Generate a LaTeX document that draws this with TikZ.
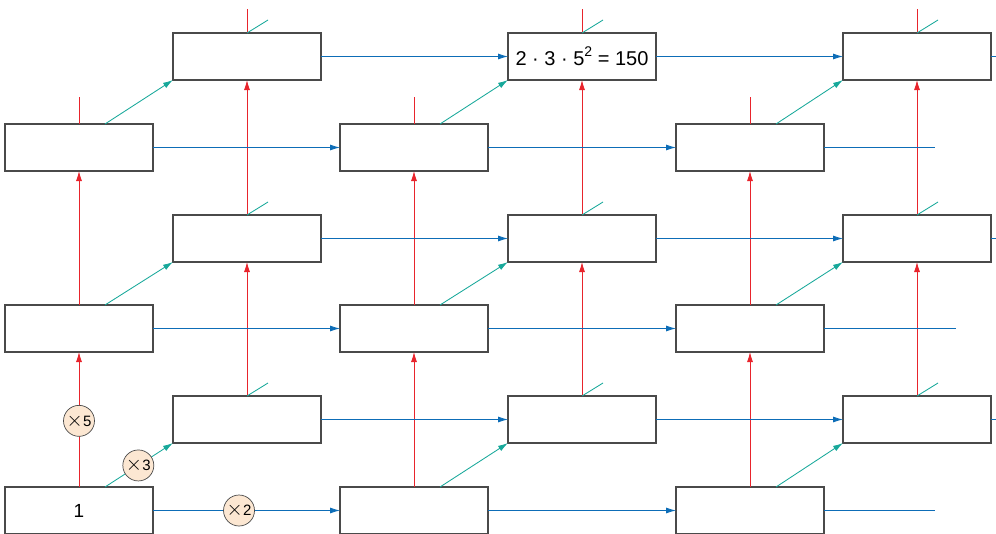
\documentclass[tikz,border=0pt]{standalone}
\usepackage{fontspec}
\setmainfont{Liberation Sans}
\usetikzlibrary{arrows.meta,calc}
\definecolor{cred}{HTML}{E8242C}
\definecolor{cteal}{HTML}{17A89A}
\definecolor{cblue}{HTML}{0D6DB7}
\definecolor{cpeach}{HTML}{FCE7D2}
\definecolor{cborder}{HTML}{4A4A4A}
\newcommand{\factortext}[1]{{\fontsize{21}{15}\selectfont$\times$}\kern0.5pt#1}
\begin{document}
\begin{tikzpicture}[x=1pt,y=-1pt,
  cell/.style={draw=cborder,line width=1.1pt,fill=white,minimum width=148pt,minimum height=47pt,
    anchor=north west,inner sep=0pt,outer sep=0pt,font=\fontsize{18}{18}\selectfont},
  redar/.style={draw=cred,line width=0.85pt},
  tealar/.style={draw=cteal,line width=0.85pt},
  bluear/.style={draw=cblue,line width=0.85pt},
  tip/.style={-{Latex[length=10pt,width=6pt]}},
  factor/.style={circle,draw=cborder,line width=0.7pt,fill=cpeach,minimum size=31pt,inner sep=0pt,
    font=\fontsize{15}{15}\selectfont}]
\useasboundingbox (0,0) rectangle (996,533);
% front layer
\foreach \c/\x in {1/5,2/340,3/676}{
  \foreach \r/\y in {1/487,2/305,3/124}{
    \node[cell] (f-\c-\r) at (\x,\y) {};
  }
}
% back layer
\foreach \c/\x in {1/173,2/508,3/843}{
  \foreach \r/\y in {1/396,2/215,3/33}{
    \node[cell] (b-\c-\r) at (\x,\y) {};
  }
}
\node[font=\fontsize{19}{19}\selectfont] at (f-1-1.center) {1};
\node[font=\fontsize{20}{20}\selectfont] at (b-2-3.center) {2 · 3 · 5\raisebox{0.45em}{\fontsize{14}{14}\selectfont 2} = 150};
% stub end coordinates
\foreach \c/\x in {1/79,2/414,3/750}{
  \coordinate (fs-\c) at (\x,97);
}
\foreach \c/\x in {1/247,2/582,3/917}{
  \coordinate (bs-\c) at (\x,9);
}
\coordinate (fe-1) at (935,510);
\coordinate (fe-2) at (956,328);
\coordinate (fe-3) at (935,147);
\foreach \r/\y in {1/419,2/238,3/56}{
  \coordinate (be-\r) at (996,\y);
}
% red connectors
\foreach \c in {1,2,3}{
  \draw[redar,tip] (b-\c-1.north) -- (b-\c-2.south);
  \draw[redar,tip] (b-\c-2.north) -- (b-\c-3.south);
  \draw[redar] (b-\c-3.north) -- (b-\c-3.north |- bs-\c);
  \draw[redar] (f-\c-3.north) -- (f-\c-3.north |- fs-\c);
  \draw[redar,tip] (f-\c-2.north) -- (f-\c-3.south);
  \ifnum\c>1
    \draw[redar,tip] (f-\c-1.north) -- (f-\c-2.south);
  \fi
}
\draw[redar,tip] (f-1-1.north) -- node[factor,pos=0.49] {\factortext{5}} (f-1-2.south);
% teal connectors
\foreach \c in {1,2,3}{
  \foreach \r in {1,2,3}{
    \draw[tealar] (b-\c-\r.north) -- ++(21,-13);
    \ifnum\c\r=11\else
      \draw[tealar,tip] ([xshift=26pt]f-\c-\r.north) -- (b-\c-\r.south west);
    \fi
  }
}
\draw[tealar,tip] ([xshift=26pt]f-1-1.north) -- node[factor,pos=0.49] {\factortext{3}} (b-1-1.south west);
% blue connectors
\foreach \r in {1,2,3}{
  \draw[bluear,tip] (b-1-\r.east) -- (b-2-\r.west);
  \draw[bluear,tip] (b-2-\r.east) -- (b-3-\r.west);
  \draw[bluear] (b-3-\r.east) -- (b-3-\r.east -| be-\r);
  \draw[bluear,tip] (f-2-\r.east) -- (f-3-\r.west);
  \draw[bluear] (f-3-\r.east) -- (f-3-\r.east -| fe-\r);
  \ifnum\r>1
    \draw[bluear,tip] (f-1-\r.east) -- (f-2-\r.west);
  \fi
}
\draw[bluear,tip] (f-1-1.east) -- node[factor,pos=0.46] {\factortext{2}} (f-2-1.west);
\end{tikzpicture}
\end{document}
